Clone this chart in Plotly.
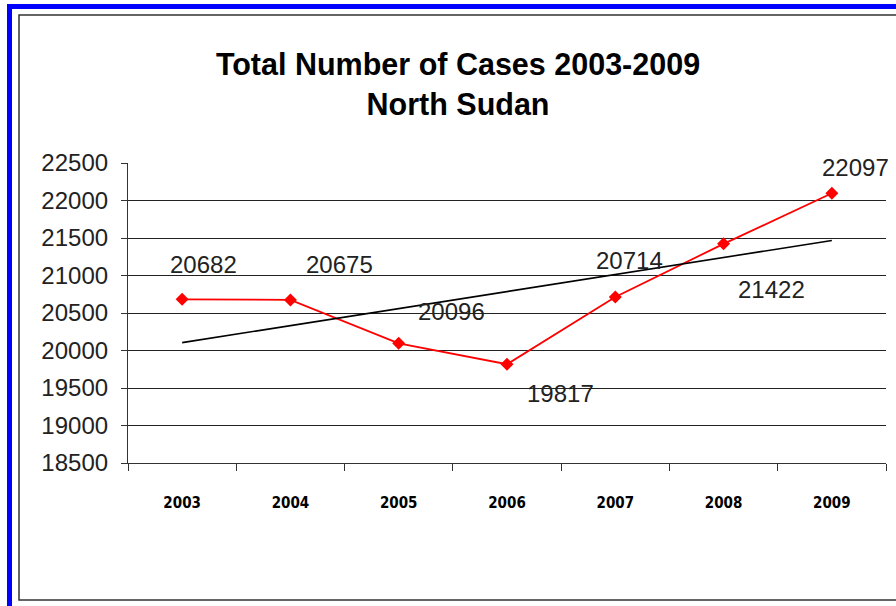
import numpy as np
import plotly.graph_objects as go

# ---- data ----
years = ["2003", "2004", "2005", "2006", "2007", "2008", "2009"]
cases = [20682, 20675, 20096, 19817, 20714, 21422, 22097]
y_tick_vals = [18500, 19000, 19500, 20000, 20500, 21000, 21500, 22000, 22500]
grid_vals = [18500, 19000, 19500, 20000, 20500, 21000, 21500, 22000]
title_lines = ["Total Number of Cases 2003-2009", "North Sudan"]

# label offsets (pixels) - style only
label_dx = [21, 49, 53, 53, 14, 48, 24]
label_dy = [35, 35, 32, -29, 36, -46, 26]

W, H = 896, 606
L, R, T, B = 128, 10, 163, 143
pw, ph = W - L - R, H - T - B


def px(xp):
    return (xp - L) / pw


def py(yp):
    return (H - B - yp) / ph


# linear trend line (like a spreadsheet trendline)
idx = np.arange(len(cases))
slope, intercept = np.polyfit(idx, cases, 1)
trend = slope * idx + intercept

fig = go.Figure()
fig.add_trace(go.Scatter(
    x=years, y=cases, mode="lines+markers",
    line=dict(color="#ff0000", width=1.8),
    marker=dict(symbol="diamond", size=10, color="#ff0000"),
    showlegend=False))
fig.add_trace(go.Scatter(
    x=[years[0], years[-1]], y=[trend[0], trend[-1]], yaxis="y2",
    mode="lines", line=dict(color="black", width=1.6),
    showlegend=False, hoverinfo="skip"))

label_font = dict(family="Liberation Sans, Arial, sans-serif", size=24, color="#222222")

for i, v in enumerate(cases):
    fig.add_annotation(x=i, y=v, xref="x", yref="y", text=str(v), showarrow=False,
                       xshift=label_dx[i], yshift=label_dy[i], font=label_font)

fig.update_layout(
    width=W, height=H,
    margin=dict(l=L, r=R, t=T, b=B, autoexpand=False),
    paper_bgcolor="white", plot_bgcolor="white",
    title=dict(text="<b>" + title_lines[0] + "<br>" + title_lines[1] + "</b>",
               x=458 / W, xanchor="center", xref="container",
               y=1 - 75 / H, yanchor="middle", yref="container",
               font=dict(family="Liberation Sans, Arial, sans-serif", size=30.5, color="black")),
    xaxis=dict(type="category", categoryorder="array", categoryarray=years,
               range=[-0.5, len(years) - 0.5], autorange=False,
               tickson="boundaries", ticks="outside", ticklen=7,
               tickcolor="#333333", showline=True, linecolor="#333333", linewidth=1.2,
               showgrid=False, zeroline=False, ticklabelstandoff=26, tickangle=0,
               tickfont=dict(family="Liberation Sans Narrow, Arial Narrow, DejaVu Sans Condensed, sans-serif",
                             size=15, color="black", weight="bold")),
    yaxis=dict(range=[18500, 22500], autorange=False, tickvals=grid_vals,
               showticklabels=False, ticks="",
               showgrid=True, gridcolor="#222222", gridwidth=1.2, zeroline=False,
               showline=False),
    yaxis2=dict(range=[18500, 22500], autorange=False, overlaying="y", side="left",
                tickvals=y_tick_vals, tickformat="d", ticks="outside", ticklen=6,
                tickcolor="#333333",
                showline=True, linecolor="#333333", linewidth=1.2, showgrid=False,
                zeroline=False, tickfont=label_font, ticklabelstandoff=8),
)

# decorative frame: blue outer border and thin dark inner border
fig.add_shape(type="rect", xref="paper", yref="paper",
              x0=px(9.5), y0=py(6.5), x1=px(930), y1=py(640),
              line=dict(color="#0000ff", width=5), layer="below")
fig.add_shape(type="rect", xref="paper", yref="paper",
              x0=px(19), y0=py(15), x1=px(930), y1=py(600),
              line=dict(color="#333333", width=1.5), layer="below")

fig.write_html("out.html", config={"displayModeBar": False},
               post_script="document.body.style.margin='0';")
